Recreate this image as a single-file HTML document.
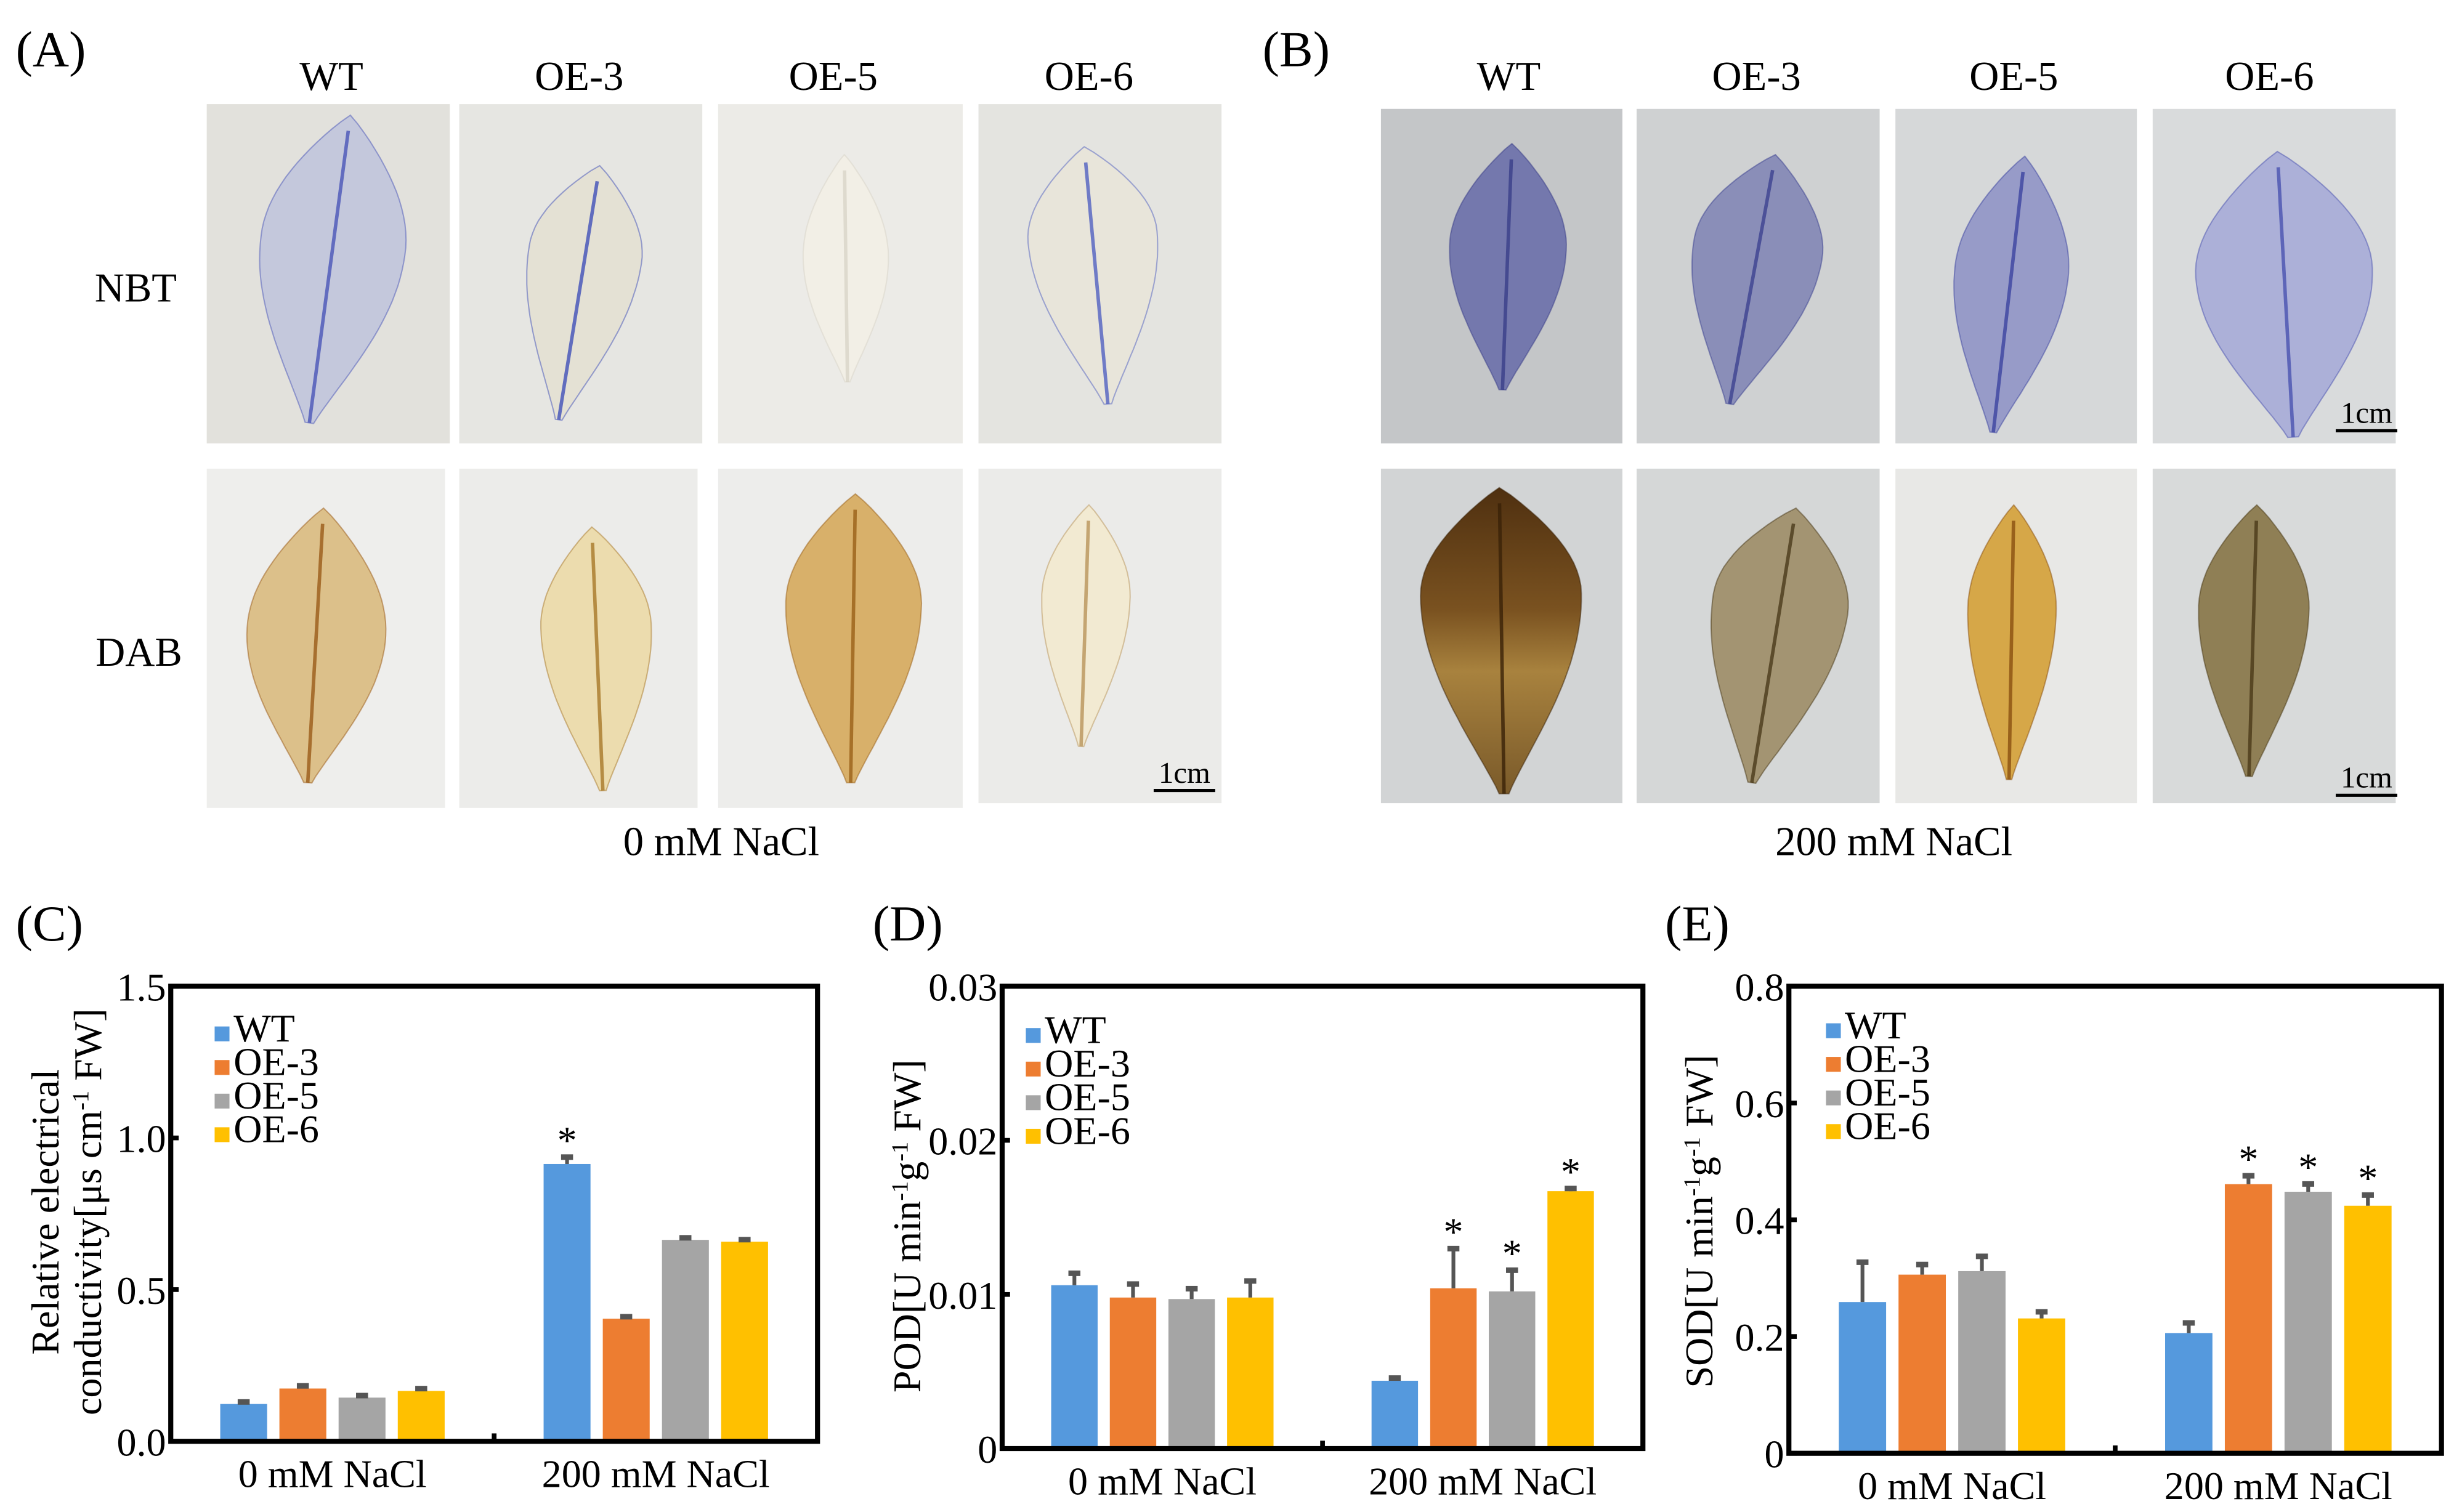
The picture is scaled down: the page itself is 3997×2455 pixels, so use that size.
<!DOCTYPE html>
<html><head><meta charset="utf-8"><style>
html,body{margin:0;padding:0;background:#fff;}
svg{display:block;}
text{font-family:"Liberation Serif",serif;fill:#000;}
</style></head><body>
<svg id="fig" width="3997" height="2455" viewBox="0 0 1560 958.2" preserveAspectRatio="none" xmlns="http://www.w3.org/2000/svg">
<defs>
<linearGradient id="gWT" x1="0" y1="0" x2="0" y2="1"><stop offset="0" stop-color="#4f3010"/><stop offset="0.4" stop-color="#7a5220"/><stop offset="0.6" stop-color="#a8823e"/><stop offset="1" stop-color="#7a5a2a"/></linearGradient>
</defs>
<g id="photos"></g>
<g id="charts"></g>
</svg>
<script>
// ---------- chart data ----------
const categories = ["0 mM NaCl", "200 mM NaCl"];
const seriesNames = ["WT", "OE-3", "OE-5", "OE-6"];
const seriesColors = ["#5599dd", "#ed7d31", "#a5a5a5", "#ffc000"];

const ecTicks = [0, 0.5, 1.0, 1.5];
const ecTickLabels = ["0.0", "0.5", "1.0", "1.5"];
const ecCtrl = [0.123, 0.174, 0.144, 0.166];
const ecSalt = [0.914, 0.404, 0.664, 0.658];
const ecCtrlErr = [0.008, 0.01, 0.008, 0.009];
const ecSaltErr = [0.024, 0.008, 0.008, 0.008];
const ecSaltSig = [1, 0, 0, 0];

const podTicks = [0, 0.01, 0.02, 0.03];
const podTickLabels = ["0", "0.01", "0.02", "0.03"];
const podCtrl = [0.0106, 0.0098, 0.0097, 0.0098];
const podSalt = [0.0044, 0.0104, 0.0102, 0.0167];
const podCtrlErr = [0.0008, 0.0009, 0.0007, 0.0011];
const podSaltErr = [0.0002, 0.0026, 0.0014, 0.0002];
const podSaltSig = [0, 1, 1, 1];

const sodTicks = [0, 0.2, 0.4, 0.6, 0.8];
const sodTickLabels = ["0", "0.2", "0.4", "0.6", "0.8"];
const sodCtrl = [0.259, 0.306, 0.312, 0.231];
const sodSalt = [0.206, 0.461, 0.448, 0.424];
const sodCtrlErr = [0.069, 0.018, 0.026, 0.012];
const sodSaltErr = [0.018, 0.015, 0.014, 0.019];
const sodSaltSig = [0, 1, 1, 1];

const NS = "http://www.w3.org/2000/svg";
function mk(tag, attrs, parent) {
  const e = document.createElementNS(NS, tag);
  for (const k in attrs) e.setAttribute(k, attrs[k]);
  if (parent) parent.appendChild(e);
  return e;
}

// ---------- photo panels ----------
const photos = document.getElementById("photos");
function tile(x0, y0, x1, y1, bg, name) {
  const r = mk("rect", {x: x0, y: y0, width: x1 - x0, height: y1 - y0, fill: bg}, photos);
  
  
}
function leaf(tx, ty, bx, by, hw, wf, fill, vein, name) {
  const n = 40, L = [], R = [];
  const dx = bx - tx, dy = by - ty, len = Math.hypot(dx, dy);
  const ux = dx / len, uy = dy / len, px = -uy, py = ux;
  for (let i = 0; i <= n; i++) {
    const t = i / n;
    let w;
    if (t < wf) w = Math.pow(Math.sin(Math.PI / 2 * t / wf), 0.9);
    else { const s = (t - wf) / (1 - wf); w = 0.06 + 0.94 * Math.pow(Math.cos(Math.PI / 2 * s), 1.1); }
    w *= hw;
    const cx = tx + dx * t, cy = ty + dy * t;
    L.push((cx + px * w).toFixed(1) + "," + (cy + py * w).toFixed(1));
    R.unshift((cx - px * w).toFixed(1) + "," + (cy - py * w).toFixed(1));
  }
  const p = mk("polygon", {points: L.concat(R).join(" "), fill: fill, stroke: vein, "stroke-width": 0.8, "stroke-opacity": 0.5}, photos);
  
  
  const m = mk("line", {x1: tx + ux * 10, y1: ty + uy * 10, x2: bx, y2: by, stroke: vein, "stroke-width": 2.2, "stroke-opacity": 0.8}, photos);
  
  
}
function label(x, y, str, size, name, anchor) {
  const t = mk("text", {x: x, y: y, "font-size": size, "text-anchor": anchor || "middle"}, photos);
  t.textContent = str;
  
  
}
function scalebar(x0, x1, y, name) {
  const l = mk("line", {x1: x0, y1: y, x2: x1, y2: y, stroke: "#000", "stroke-width": 2}, photos);
  
  
  label((x0 + x1) / 2, y - 5, "1cm", 19, name + '-label');
}

tile(131, 66, 285, 281, "#e2e1dc", "a-nbt-wt-photo");
tile(291, 66, 445, 281, "#e6e6e2", "a-nbt-oe3-photo");
tile(455, 66, 610, 281, "#ecebe7", "a-nbt-oe5-photo");
tile(620, 66, 774, 281, "#e4e4e0", "a-nbt-oe6-photo");
tile(131, 297, 282, 512, "#eeeeec", "a-dab-wt-photo");
tile(291, 297, 442, 512, "#ececea", "a-dab-oe3-photo");
tile(455, 297, 610, 512, "#ededeb", "a-dab-oe5-photo");
tile(620, 297, 774, 509, "#ebebe9", "a-dab-oe6-photo");
leaf(222, 73, 196, 268, 46, 0.42, "#c4c8dc", "#4a55b8", "a-nbt-wt-leaf");
leaf(380, 105, 354, 266, 36, 0.35, "#e4e1d4", "#4050b8", "a-nbt-oe3-leaf");
leaf(535, 98, 537, 242, 27, 0.45, "#f2efe6", "#d8d4c8", "a-nbt-oe5-leaf");
leaf(687, 93, 702, 256, 41, 0.35, "#e8e5da", "#5060c0", "a-nbt-oe6-leaf");
leaf(205, 322, 195, 496, 44, 0.45, "#dcc08a", "#9a5a18", "a-dab-wt-leaf");
leaf(375, 334, 382, 501, 35, 0.38, "#ecdcae", "#a87828", "a-dab-oe3-leaf");
leaf(542, 313, 539, 496, 43, 0.38, "#d8b06a", "#9a6018", "a-dab-oe5-leaf");
leaf(690, 320, 685, 473, 28, 0.38, "#f2ead2", "#b8935a", "a-dab-oe6-leaf");
label(10, 42, "(A)", 32, "panel-a-label", "start");
label(210, 57, "WT", 26, "a-col-wt");
label(367, 57, "OE-3", 26, "a-col-oe3");
label(528, 57, "OE-5", 26, "a-col-oe5");
label(690, 57, "OE-6", 26, "a-col-oe6");
label(86, 191, "NBT", 26, "row-label-nbt");
label(88, 422, "DAB", 26, "row-label-dab");
label(457, 542, "0 mM NaCl", 26, "a-condition-label");
scalebar(731, 770, 501, "a-scale-bar");

tile(875, 69, 1028, 281, "#c4c6c8", "b-nbt-wt-photo");
tile(1037, 69, 1191, 281, "#cfd1d2", "b-nbt-oe3-photo");
tile(1201, 69, 1354, 281, "#d6d8d9", "b-nbt-oe5-photo");
tile(1364, 69, 1518, 281, "#d9dbdc", "b-nbt-oe6-photo");
tile(875, 297, 1028, 509, "#d2d4d5", "b-dab-wt-photo");
tile(1037, 297, 1191, 509, "#d5d7d7", "b-dab-oe3-photo");
tile(1201, 297, 1354, 509, "#e8e8e6", "b-dab-oe5-photo");
tile(1364, 297, 1518, 509, "#d8dada", "b-dab-oe6-photo");
leaf(958, 91, 952, 247, 37, 0.42, "#7478ad", "#3a3e88", "b-nbt-wt-leaf");
leaf(1125, 98, 1096, 256, 41, 0.38, "#8a8eb8", "#3c4290", "b-nbt-oe3-leaf");
leaf(1283, 99, 1263, 274, 36, 0.42, "#979bc8", "#3c44a0", "b-nbt-oe5-leaf");
leaf(1443, 96, 1453, 277, 56, 0.42, "#acb0d8", "#4a52b0", "b-nbt-oe6-leaf");
leaf(950, 309, 953, 503, 51, 0.35, "url(#gWT)", "#3a2208", "b-dab-wt-leaf");
leaf(1138, 322, 1110, 496, 43, 0.35, "#a39472", "#4a3a1a", "b-dab-oe3-leaf");
leaf(1276, 320, 1273, 494, 28, 0.38, "#d6a748", "#8a5010", "b-dab-oe5-leaf");
leaf(1430, 320, 1425, 492, 35, 0.38, "#8f7f55", "#4a3a18", "b-dab-oe6-leaf");
label(800, 42, "(B)", 32, "panel-b-label", "start");
label(956, 57, "WT", 26, "b-col-wt");
label(1113, 57, "OE-3", 26, "b-col-oe3");
label(1276, 57, "OE-5", 26, "b-col-oe5");
label(1438, 57, "OE-6", 26, "b-col-oe6");
label(1200, 542, "200 mM NaCl", 26, "b-condition-label");
scalebar(1480, 1519, 273, "b-scale-bar-nbt");
scalebar(1480, 1519, 504, "b-scale-bar-dab");

// ---------- charts ----------
const charts = document.getElementById("charts");
function drawChart(cfg) {
  const g = mk("g", {}, charts);
  
  
  const L = cfg.left, R = cfg.right, T = cfg.top, B = cfg.bottom;
  const maxV = cfg.ticks[cfg.ticks.length - 1];
  const y = v => B - (v / maxV) * (B - T);
  const band = (R - L) / categories.length;
  const xc = ci => L + band * (ci + 0.5);
  const step = band * 0.183, bw = band * 0.145;
  const groups = [cfg.ctrl, cfg.salt], errs = [cfg.ctrlErr, cfg.saltErr], sigs = [null, cfg.saltSig];
  groups.forEach((vals, ci) => {
    vals.forEach((v, si) => {
      const cx = xc(ci) + (si - 1.5) * step;
      const r = mk("rect", {x: cx - bw / 2, y: y(v), width: bw, height: B - y(v), fill: seriesColors[si]}, g);
      
      
      const top = y(v + errs[ci][si]);
      const e = mk("line", {x1: cx, y1: y(v), x2: cx, y2: top, stroke: "#555", "stroke-width": 2.4}, g);
      
      
      const cap = mk("rect", {x: cx - 3.8, y: top - 1.5, width: 7.6, height: 3.5, fill: "#555"}, g);
      
      
      if (sigs[ci] && sigs[ci][si]) {
        const s = mk("text", {x: cx, y: top - 2, "font-size": 25, "text-anchor": "middle"}, g);
        s.textContent = "*";
        
        
      }
    });
    const xl = mk("text", {x: xc(ci), y: B + 29, "font-size": 25, "text-anchor": "middle"}, g);
    xl.textContent = categories[ci];
    
    
  });
  const f = mk("rect", {x: L, y: T, width: R - L, height: B - T, fill: "none", stroke: "#000", "stroke-width": 3.2}, g);
  
  
  const mt = mk("line", {x1: (L + R) / 2, y1: B, x2: (L + R) / 2, y2: B - 5, stroke: "#000", "stroke-width": 3}, g);
  
  
  cfg.ticks.forEach((tv, i) => {
    const tk = mk("line", {x1: L, y1: y(tv), x2: L + 5, y2: y(tv), stroke: "#000", "stroke-width": 3}, g);
    
    
    const tl = mk("text", {x: L - 3, y: y(tv) + 9, "font-size": 25, "text-anchor": "end"}, g);
    tl.textContent = cfg.tickLabels[i];
    
    
  });
  seriesNames.forEach((nm, i) => {
    const ly = cfg.legY + i * 21.3;
    const sq = mk("rect", {x: cfg.legX, y: ly - 9.5, width: 9.4, height: 9.4, fill: seriesColors[i]}, g);
    
    
    const lt = mk("text", {x: cfg.legX + 12, y: ly, "font-size": 25}, g);
    lt.textContent = nm;
    
    
  });
  cfg.yTitle.forEach((ln, i) => {
    const t = mk("text", {x: 0, y: 0, "font-size": 25, "text-anchor": "middle", transform: "translate(" + cfg.yTitleX[i] + "," + cfg.yTitleY + ") rotate(-90)"}, g);
    t.innerHTML = ln;
    
    
  });
  const pl = mk("text", {x: cfg.labX, y: 596, "font-size": 32}, g);
  pl.textContent = cfg.panel;
  
  
}

drawChart({name: "chart-c-conductivity", panel: "(C)", labX: 10, left: 108.2, right: 518, top: 625, bottom: 913.4,
  ticks: ecTicks, tickLabels: ecTickLabels, ctrl: ecCtrl, salt: ecSalt, ctrlErr: ecCtrlErr, saltErr: ecSaltErr, saltSig: ecSaltSig,
  legX: 136, legY: 660, yTitle: ["Relative electrical", "conductivity[μs cm<tspan font-size='15' dy='-8'>-1</tspan><tspan dy='8'> FW]</tspan>"], yTitleX: [37, 64], yTitleY: 768});
drawChart({name: "chart-d-pod", panel: "(D)", labX: 553, left: 635, right: 1041, top: 625, bottom: 918,
  ticks: podTicks, tickLabels: podTickLabels, ctrl: podCtrl, salt: podSalt, ctrlErr: podCtrlErr, saltErr: podSaltErr, saltSig: podSaltSig,
  legX: 650, legY: 661, yTitle: ["POD[U min<tspan font-size='15' dy='-8'>-1</tspan><tspan dy='8'>g</tspan><tspan font-size='15' dy='-8'>-1</tspan><tspan dy='8'> FW]</tspan>"], yTitleX: [583], yTitleY: 777});
drawChart({name: "chart-e-sod", panel: "(E)", labX: 1055, left: 1133.5, right: 1547, top: 625, bottom: 921,
  ticks: sodTicks, tickLabels: sodTickLabels, ctrl: sodCtrl, salt: sodSalt, ctrlErr: sodCtrlErr, saltErr: sodSaltErr, saltSig: sodSaltSig,
  legX: 1157, legY: 658, yTitle: ["SOD[U min<tspan font-size='15' dy='-8'>-1</tspan><tspan dy='8'>g</tspan><tspan font-size='15' dy='-8'>-1</tspan><tspan dy='8'> FW]</tspan>"], yTitleX: [1085], yTitleY: 774});
</script>
</body></html>
